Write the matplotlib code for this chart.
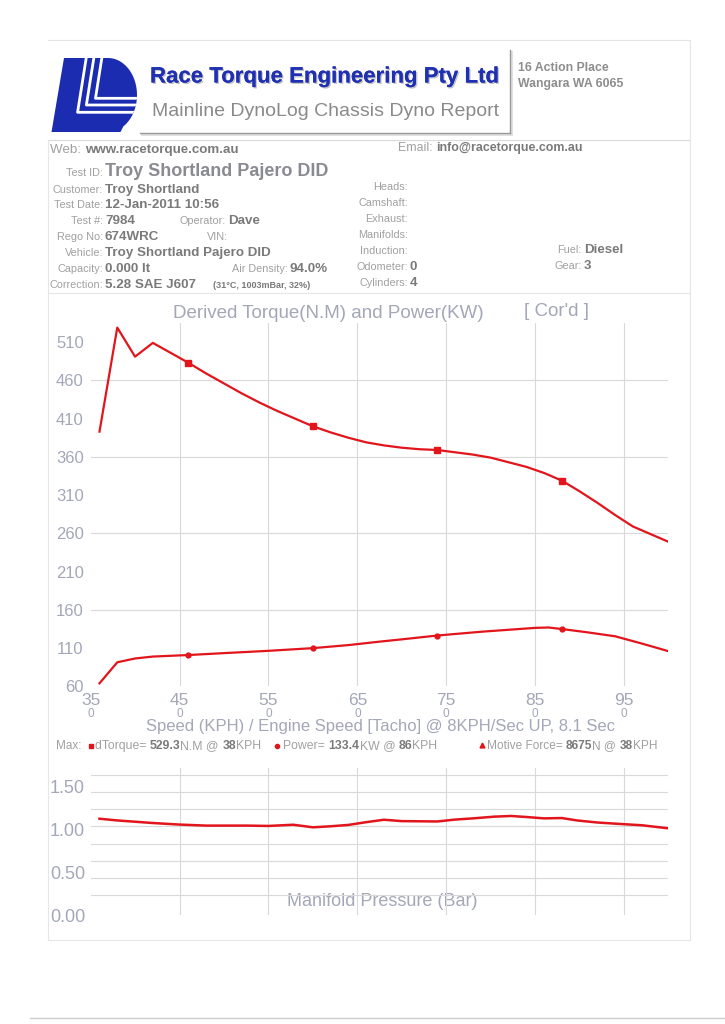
import numpy as np
import matplotlib
matplotlib.use('Agg')
import matplotlib.pyplot as plt
from matplotlib.patches import Polygon
import matplotlib.patheffects as pe
import matplotlib.transforms as mtransforms

plt.rcParams['font.family'] = ['Liberation Sans', 'DejaVu Sans']

# torque curve (N.M) vs road speed (KPH)
speed_tq = [36, 38, 40, 42, 46, 48, 50, 52, 54, 56, 58, 60, 62, 64, 66, 68, 70, 72, 74,
            76, 78, 80, 82, 84, 86, 88, 90, 92, 94, 96, 98, 100]
torque = [393, 529, 491, 509, 483, 469, 456, 443, 431, 420, 410, 400, 392, 385, 379, 375,
          372, 370, 369, 366, 363, 359, 353, 347, 339, 329, 315, 300, 284, 269, 259, 249]

# power curve (KW)
speed_pw = [36, 38, 40, 42, 46, 50, 55, 60, 64, 67.5, 70, 74, 79, 82, 85, 86.5, 88, 91, 94, 97, 100]
power = [64, 91.5, 96.5, 99, 101, 103.5, 106.5, 110, 114, 118.5, 121.5, 126.5, 131.5, 134,
         136.5, 137, 135, 130.5, 125.5, 116, 106]

# manifold pressure (Bar)
speed_mp = [36, 38, 40, 42, 45, 48, 52.5, 55, 56.6, 57.8, 60, 62, 64, 66, 68, 70, 74, 76, 78,
            80.4, 82.3, 84, 86, 88, 89.7, 92, 94.4, 97, 100]
boost = [1.12, 1.10, 1.085, 1.07, 1.052, 1.04, 1.04, 1.036, 1.044, 1.05, 1.02, 1.032, 1.048,
         1.08, 1.108, 1.092, 1.088, 1.11, 1.124, 1.144, 1.152, 1.14, 1.124, 1.128, 1.10,
         1.076, 1.06, 1.044, 1.008]

marker_speeds = [46, 60, 74, 88]
x_ticks = [35, 45, 55, 65, 75, 85, 95]
tq_ticks = [60, 110, 160, 210, 260, 310, 360, 410, 460, 510]
mp_ticks = [0.0, 0.5, 1.0, 1.5]

RED = '#e2151c'
AXC = '#a3a7b8'
LAB = '#a0a0a0'
VAL = '#7a7a7a'

W, H = 725, 1024
fig = plt.figure(figsize=(W / 100, H / 100), dpi=100)
fig.patch.set_facecolor('white')

# page layer in pixel coordinates
page = fig.add_axes([0, 0, 1, 1])
page.set_xlim(0, W)
page.set_ylim(H, 0)
page.axis('off')

# faint page frame lines
fc = '#e6e6e6'
page.plot([48, 690], [40, 40], color=fc, lw=0.8)
page.plot([48, 690], [140, 140], color='#dadada', lw=0.8)
page.plot([48, 690], [293, 293], color=fc, lw=0.8)
page.plot([48, 48], [140, 940], color=fc, lw=0.8)
page.plot([690, 690], [40, 940], color=fc, lw=0.8)
page.plot([48, 690], [940, 940], color=fc, lw=0.8)
page.plot([30, 725], [1018, 1018], color='#cccccc', lw=1.0)

# logo
t = np.linspace(np.pi / 2, -np.radians(58), 40)
arc = list(zip(108 + 29 * np.cos(t), 95 - 37 * np.sin(t)))
logo = Polygon([(64, 58)] + arc + [(120.5, 132), (51.5, 132)], closed=True,
               facecolor='#1b2cb0', edgecolor='none')
page.add_patch(logo)
for top_x, cy in [(86.7, 112.3), (94.3, 105), (102.3, 98.3)]:
    cx = top_x - 0.165 * (cy - 57)
    ln, = page.plot([top_x, cx, 145], [55, cy, cy], color='white', lw=2.0)
    ln.set_clip_path(logo)

# header box
page.plot([512, 512], [52, 135], color='#e0e0e0', lw=1.4)
page.plot([142, 512], [135, 135], color='#e0e0e0', lw=1.4)
page.plot([510, 510], [50, 133], color='#999999', lw=1.0)
page.plot([140, 510], [133, 133], color='#999999', lw=1.0)

page.text(150, 77, 'Race Torque Engineering Pty Ltd', fontsize=16, fontweight='bold',
          color='#1f30b2', va='center', ha='left',
          path_effects=[pe.withSimplePatchShadow(offset=(1.0, -1.0), shadow_rgbFace='#888888', alpha=0.5),
                        pe.Normal()])
page.text(152, 112, 'Mainline DynoLog Chassis Dyno Report', fontsize=14, color='#8a8a8a',
          va='center', ha='left')
page.text(518, 68, '16 Action Place', fontsize=8.8, fontweight='bold', color='#8d8d8d', va='center')
page.text(518, 84, 'Wangara WA 6065', fontsize=8.8, fontweight='bold', color='#8d8d8d', va='center')

renderer = fig.canvas.get_renderer()


def text_w(s, size, bold):
    kw = dict(fontsize=size, fontweight='bold' if bold else 'normal')
    a = page.text(0, 0, s + '|', **kw)
    b = page.text(0, 0, '|', **kw)
    w = a.get_window_extent(renderer).width - b.get_window_extent(renderer).width
    a.remove()
    b.remove()
    return w


def rich(x, y, parts, size):
    for s, c, bold in parts:
        page.text(x, y, s, fontsize=size, color=c, fontweight='bold' if bold else 'normal',
                  va='center', ha='left')
        x += text_w(s, size, bold)
    return x


def field(xr, y, label, value='', vsize=9.6):
    page.text(xr, y, label, fontsize=7.8, color=LAB, va='center', ha='right')
    if value:
        page.text(xr + 2, y, value, fontsize=vsize, color=VAL, fontweight='bold', va='center', ha='left')


rich(50, 150, [('Web: ', LAB, False), ('www.racetorque.com.au', VAL, True)], 9.6)
rich(398, 148, [('Email: ', LAB, False), ('info@racetorque.com.au', VAL, True)], 8.9)

page.text(103, 173, 'Test ID:', fontsize=7.8, color=LAB, va='center', ha='right')
page.text(105, 172, 'Troy Shortland Pajero DID', fontsize=13, color='#8a8a92', fontweight='bold',
          va='center', ha='left')
field(103, 190, 'Customer:', 'Troy Shortland')
field(103, 205, 'Test Date:', '12-Jan-2011 10:56')
field(103, 221, 'Test #:', '7984')
field(226, 221, 'Operator:', 'Dave')
field(103, 237, 'Rego No:', '674WRC')
field(228, 237, 'VIN:')
field(103, 253, 'Vehicle:', 'Troy Shortland Pajero DID')
field(103, 269, 'Capacity:', '0.000 lt')
field(288, 269, 'Air Density:', '94.0%')
field(103, 285, 'Correction:', '5.28 SAE J607')
page.text(213, 285, '(31\u00b0C, 1003mBar, 32%)', fontsize=6.5, color=VAL, fontweight='bold',
          va='center', ha='left')
field(408, 187, 'Heads:')
field(408, 203, 'Camshaft:')
field(408, 219, 'Exhaust:')
field(408, 235, 'Manifolds:')
field(408, 251, 'Induction:')
field(408, 267, 'Odometer:', '0')
field(408, 283, 'Cylinders:', '4')
field(582, 250, 'Fuel:', 'Diesel')
field(582, 266, 'Gear:', '3')

# main torque / power chart
left, right = 90.6, 668.5
top, bot = 323, 686.4
ax = fig.add_axes([left / W, 1 - bot / H, (right - left) / W, (bot - top) / H])
ax.patch.set_alpha(0)
ax.set_xlim(35, 100)
ax.set_ylim(60, 535)
for s in ax.spines.values():
    s.set_visible(False)
for v in x_ticks[1:]:
    ax.axvline(v, color='#d9d9d9', lw=0.8, zorder=0)
for v in [160, 260, 360, 460]:
    ax.axhline(v, color='#d9d9d9', lw=0.8, zorder=0)
ax.set_xticks(x_ticks)
ax.set_yticks(tq_ticks)
ax.tick_params(length=0, labelcolor=AXC, labelsize=12)
ax.tick_params(axis='y', pad=5)
ax.tick_params(axis='x', pad=5, labelsize=12.5)

tq_marks = [speed_tq.index(v) for v in marker_speeds]
pw_marks = [speed_pw.index(v) for v in marker_speeds]
ax.plot(speed_tq, torque, color=RED, lw=1.6, marker='s', ms=4, markevery=tq_marks)
ax.plot(speed_pw, power, color=RED, lw=1.6, marker='o', ms=3.5, markevery=pw_marks)

tr = mtransforms.blended_transform_factory(ax.transData, page.transData)
for v in x_ticks:
    ax.text(v, 714, '0', transform=tr, fontsize=8.5, color=AXC, ha='center', va='center')

page.text(328, 313, 'Derived Torque(N.M) and Power(KW)', fontsize=13.5, color=AXC, ha='center', va='center')
page.text(557, 312, "[ Cor'd ]", fontsize=13.5, color=AXC, ha='center', va='center')
page.text(381, 727, 'Speed (KPH) / Engine Speed [Tacho] @ 8KPH/Sec UP, 8.1 Sec', fontsize=12,
          color=AXC, ha='center', va='center')

# max values line
my = 746
page.text(82, my, 'Max:', fontsize=8.5, color=LAB, va='center', ha='right')
page.plot([91], [my], marker='s', ms=3.5, color=RED)
rich(95, my, [('dTorque= ', LAB, False), ('529.3', VAL, True), ('N.M @ ', LAB, False),
              ('38', VAL, True), ('KPH', LAB, False)], 8.8)
page.plot([277.5], [my], marker='o', ms=3, color=RED)
rich(283.5, my, [('Power= ', LAB, False), ('133.4', VAL, True), ('KW @ ', LAB, False),
                 ('86', VAL, True), ('KPH', LAB, False)], 8.8)
page.plot([482], [my - 1], marker='^', ms=3.5, color=RED)
rich(487, my, [('Motive Force= ', LAB, False), ('8675', VAL, True), ('N @ ', LAB, False),
               ('38', VAL, True), ('KPH', LAB, False)], 8.6)

# manifold pressure chart
mtop, mbot = 768, 915
ax2 = fig.add_axes([left / W, 1 - mbot / H, (right - left) / W, (mbot - mtop) / H])
ax2.patch.set_alpha(0)
ax2.set_xlim(35, 100)
ax2.set_ylim(0, 1.71)
for s in ax2.spines.values():
    s.set_visible(False)
for v in x_ticks[1:]:
    ax2.axvline(v, color='#d9d9d9', lw=0.8, zorder=0)
for v in np.arange(0.2, 1.7, 0.2):
    ax2.axhline(v + 0.03, color='#d9d9d9', lw=0.8, zorder=0)
ax2.set_xticks([])
ax2.set_yticks(mp_ticks)
ax2.set_yticklabels(['%.2f' % v for v in mp_ticks])
ax2.tick_params(length=0, labelcolor=AXC, labelsize=13, pad=4)
ax2.plot(speed_mp, boost, color=RED, lw=1.8)
page.text(382, 901, 'Manifold Pressure (Bar)', fontsize=13, color=AXC, ha='center', va='center')

fig.savefig('out.png', dpi=100)
